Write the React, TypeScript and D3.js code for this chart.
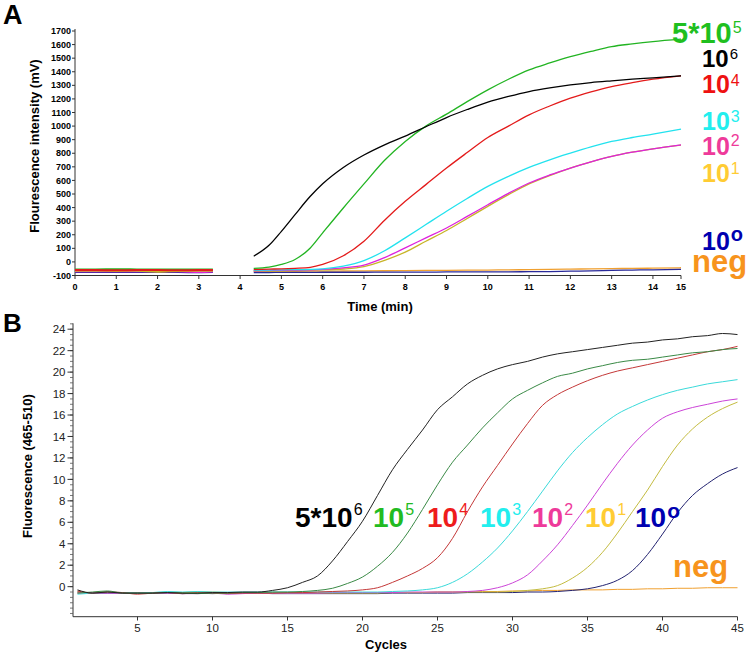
import React from 'react';
import * as d3 from 'd3';

const FONT = "'Liberation Sans', Arial, Helvetica, sans-serif";

// ---------- Panel A data ----------
const timesPre = [0, 0.5, 1, 1.5, 2, 2.5, 3, 3.34];
const timesPost = [4.33, 4.7, 5.0, 5.33, 5.7, 6.0, 6.5, 7.0, 7.5, 8.0, 8.5, 9.0, 9.5, 10, 10.5, 11, 11.5, 12, 12.5, 13, 13.5, 14, 14.68];
const yTicksA = [-100, 0, 100, 200, 300, 400, 500, 600, 700, 800, 900, 1000, 1100, 1200, 1300, 1400, 1500, 1600, 1700];
const xTicksA = [0, 1, 2, 3, 4, 5, 6, 7, 8, 9, 10, 11, 12, 13, 14, 14.68];
const xTickLabelsA = ['0', '1', '2', '3', '4', '5', '6', '7', '8', '9', '10', '11', '12', '13', '14', '15'];

const preBlackA = [-66, -66, -66, -66, -66, -66, -66, -66];
const preGreenA = [-55, -55, -54, -55, -56, -55, -55, -55];
const preRedA = [-60, -60, -61, -60, -60, -61, -60, -60];
const preCyanA = [-63, -63, -62, -63, -63, -62, -63, -63];
const preMagentaA = [-68, -68, -68, -69, -68, -68, -75, -70];
const preYellowA = [-65, -65, -66, -65, -72, -66, -65, -65];
const preBlueA = [-75, -75, -75, -75, -75, -75, -76, -75];
const preNegA = [-63, -63, -63, -62, -63, -63, -63, -63];

const postBlackA = [42, 122, 225, 348, 483, 575, 695, 787, 862, 926, 995, 1063, 1122, 1176, 1218, 1254, 1281, 1303, 1320, 1333, 1345, 1355, 1370];
const postGreenA = [-48, -39, -19, 18, 103, 214, 397, 574, 748, 887, 1000, 1088, 1180, 1267, 1345, 1414, 1465, 1511, 1550, 1585, 1605, 1622, 1640];
const postRedA = [-56, -53, -51, -47, -40, -19, 45, 152, 307, 446, 569, 691, 805, 916, 1000, 1083, 1148, 1206, 1252, 1291, 1320, 1345, 1370];
const postCyanA = [-62, -60, -58, -57, -55, -51, -31, 10, 82, 177, 275, 373, 467, 556, 630, 696, 752, 801, 847, 887, 916, 941, 978];
const postMagentaA = [-65, -63, -62, -60, -58, -55, -44, -24, 32, 103, 177, 250, 335, 421, 505, 581, 640, 691, 737, 777, 808, 833, 862];
const postYellowA = [-68, -66, -65, -63, -61, -59, -52, -34, 12, 72, 152, 231, 320, 409, 495, 574, 636, 691, 737, 777, 808, 833, 860];
const postBlueA = [-78, -78, -77, -77, -77, -76, -76, -76, -75, -75, -75, -74, -74, -74, -73, -72, -71, -68, -66, -62, -60, -58, -55];
const postNegA = [-70, -70, -69, -69, -68, -68, -67, -66, -65, -64, -63, -62, -61, -60, -58, -57, -55, -53, -51, -49, -48, -46, -43];

// ---------- Panel B data ----------
const cyclesB = [1, 2, 3, 4, 5, 6, 7, 8, 9, 10, 11, 12, 13, 14, 15, 16, 17, 18, 19, 20, 21, 22, 23, 24, 25, 26, 27, 28, 29, 30, 31, 32, 33, 34, 35, 36, 37, 38, 39, 40, 41, 42, 43, 44, 45];
const yTicksB = [0, 2, 4, 6, 8, 10, 12, 14, 16, 18, 20, 22, 24];
const xTicksB = [5, 10, 15, 20, 25, 30, 35, 40, 45];

const blackB = [-0.3, -0.6, -0.5, -0.6, -0.6, -0.6, -0.55, -0.6, -0.6, -0.55, -0.55, -0.5, -0.5, -0.35, -0.1, 0.4, 1.0, 2.4, 4.2, 6.1, 8.5, 10.9, 12.8, 14.6, 16.5, 17.7, 18.9, 19.7, 20.3, 20.7, 21.0, 21.4, 21.7, 21.9, 22.1, 22.3, 22.5, 22.7, 22.8, 23.0, 23.1, 23.3, 23.4, 23.6, 23.5];
const greenB = [-0.6, -0.5, -0.4, -0.6, -0.6, -0.6, -0.55, -0.6, -0.65, -0.6, -0.6, -0.55, -0.55, -0.5, -0.5, -0.45, -0.35, -0.15, 0.3, 0.9, 1.9, 3.2, 5.0, 7.2, 9.5, 11.6, 13.2, 14.8, 16.2, 17.5, 18.3, 19.0, 19.6, 19.9, 20.3, 20.6, 20.9, 21.1, 21.2, 21.4, 21.6, 21.8, 21.9, 22.1, 22.2];
const redB = [-0.4, -0.6, -0.5, -0.55, -0.7, -0.6, -0.55, -0.65, -0.6, -0.6, -0.65, -0.6, -0.6, -0.6, -0.55, -0.55, -0.5, -0.45, -0.4, -0.3, -0.1, 0.4, 1.0, 1.7, 2.7, 4.5, 7.0, 9.3, 11.3, 13.3, 15.2, 16.9, 17.9, 18.6, 19.2, 19.7, 20.1, 20.4, 20.7, 21.0, 21.3, 21.6, 21.9, 22.1, 22.4];
const cyanB = [-0.7, -0.6, -0.5, -0.55, -0.6, -0.55, -0.45, -0.5, -0.45, -0.5, -0.5, -0.5, -0.5, -0.5, -0.5, -0.5, -0.5, -0.5, -0.5, -0.5, -0.5, -0.45, -0.4, -0.3, -0.1, 0.4, 1.2, 2.3, 3.6, 5.2, 7.0, 8.9, 10.8, 12.5, 13.9, 15.1, 16.1, 16.8, 17.4, 17.9, 18.3, 18.6, 18.9, 19.1, 19.3];
const magentaB = [-0.6, -0.55, -0.6, -0.6, -0.6, -0.6, -0.6, -0.65, -0.65, -0.6, -0.7, -0.65, -0.6, -0.6, -0.6, -0.6, -0.6, -0.55, -0.55, -0.55, -0.55, -0.55, -0.5, -0.5, -0.5, -0.5, -0.45, -0.35, -0.1, 0.35, 1.1, 2.4, 3.9, 5.7, 7.6, 9.6, 11.5, 13.2, 14.6, 15.7, 16.3, 16.7, 17.0, 17.3, 17.5];
const yellowB = [-0.5, -0.55, -0.5, -0.6, -0.55, -0.6, -0.5, -0.55, -0.5, -0.55, -0.55, -0.55, -0.6, -0.6, -0.6, -0.6, -0.6, -0.6, -0.6, -0.6, -0.6, -0.55, -0.55, -0.55, -0.5, -0.5, -0.5, -0.5, -0.5, -0.45, -0.35, -0.2, 0.1, 0.8, 1.8, 3.2, 5.0, 7.0, 9.0, 11.2, 13.2, 14.7, 15.8, 16.6, 17.2];
const blueB = [-0.5, -0.6, -0.6, -0.6, -0.6, -0.6, -0.6, -0.65, -0.6, -0.65, -0.6, -0.6, -0.6, -0.65, -0.65, -0.65, -0.65, -0.65, -0.65, -0.65, -0.65, -0.6, -0.6, -0.6, -0.6, -0.6, -0.55, -0.55, -0.55, -0.55, -0.5, -0.5, -0.45, -0.35, -0.2, 0.1, 0.6, 1.5, 3.0, 4.9, 6.9, 8.5, 9.6, 10.5, 11.1];
const negB = [-0.6, -0.55, -0.5, -0.55, -0.55, -0.55, -0.55, -0.55, -0.5, -0.5, -0.55, -0.55, -0.55, -0.55, -0.55, -0.55, -0.6, -0.6, -0.6, -0.6, -0.55, -0.55, -0.55, -0.55, -0.5, -0.5, -0.5, -0.45, -0.45, -0.4, -0.4, -0.35, -0.35, -0.3, -0.3, -0.3, -0.25, -0.25, -0.2, -0.2, -0.15, -0.15, -0.1, -0.1, -0.1];

const seriesA = [
  { pre: preNegA, post: postNegA, color: '#f0a030' },
  { pre: preBlueA, post: postBlueA, color: '#2a2a9a' },
  { pre: preYellowA, post: postYellowA, color: '#c8b428' },
  { pre: preMagentaA, post: postMagentaA, color: '#dd22dd' },
  { pre: preCyanA, post: postCyanA, color: '#22e2ee' },
  { pre: preRedA, post: postRedA, color: '#e31a1a' },
  { pre: preGreenA, post: postGreenA, color: '#22b422' },
  { pre: preBlackA, post: postBlackA, color: '#000000' },
];
// drawing order of the pre-gap baseline segments (red on top, as in the reference)
const preOrderA = [7, 4, 0, 1, 3, 2, 6, 5];

const seriesB = [
  { values: negB, color: '#f0a030' },
  { values: blueB, color: '#222270' },
  { values: yellowB, color: '#c4bc40' },
  { values: magentaB, color: '#cc44d8' },
  { values: cyanB, color: '#3adada' },
  { values: redB, color: '#c43838' },
  { values: greenB, color: '#3a8a46' },
  { values: blackB, color: '#222222' },
];

const xA = d3.scaleLinear().domain([0, 14.68]).range([75, 681]);
const yA = d3.scaleLinear().domain([-100, 1700]).range([275.5, 31]);
const xB = d3.scaleLinear().domain([0.7, 45]).range([73, 737.5]);
const yB = d3.scaleLinear().domain([-2.8, 24.55]).range([616.7, 323.3]);
const minorB = d3.range(-2.5, 24.51, 0.5);

function Sup({ x, y, main, sup, color, size, supSize, dy, supBold }: any) {
  return (
    <text x={x} y={y} fill={color} fontFamily={FONT} fontWeight="bold" fontSize={size}>
      <tspan>{main}</tspan>
      <tspan dx={1} dy={dy} fontSize={supSize} fontWeight={supBold ? 'bold' : 'normal'}>{sup}</tspan>
    </text>
  );
}

export default function App() {
  const lineA = d3.line<[number, number]>().x(d => xA(d[0])).y(d => yA(d[1])).curve(d3.curveMonotoneX);
  const lineB = d3.line<[number, number]>().x(d => xB(d[0])).y(d => yB(d[1])).curve(d3.curveMonotoneX);

  return (
    <svg width={750} height={654} style={{ position: 'absolute', left: 0, top: 0, background: '#fff' }}>
      <rect width={750} height={654} fill="#fff" />
      {/* Panel A */}
      <text x={3} y={24} fontFamily={FONT} fontWeight="bold" fontSize={27}>A</text>
      <line x1={75} x2={75} y1={29} y2={275.5} stroke="#333" strokeWidth={1} />
      <line x1={75} x2={681} y1={275.5} y2={275.5} stroke="#333" strokeWidth={1} />
      {yTicksA.map(t => (
        <g key={'ya' + t}>
          <line x1={72} x2={75} y1={yA(t)} y2={yA(t)} stroke="#333" />
          <text x={71} y={yA(t)} dy="0.35em" textAnchor="end" fontFamily={FONT} fontWeight="bold" fontSize={9}>{t}</text>
        </g>
      ))}
      {xTicksA.map((t, i) => (
        <g key={'xa' + t}>
          <line x1={xA(t)} x2={xA(t)} y1={275.5} y2={279} stroke="#333" />
          <text x={xA(t)} y={290} textAnchor="middle" fontFamily={FONT} fontWeight="bold" fontSize={9}>{xTickLabelsA[i]}</text>
        </g>
      ))}
      <text x={380} y={311} textAnchor="middle" fontFamily={FONT} fontWeight="bold" fontSize={13}>Time (min)</text>
      <text transform="translate(39,146) rotate(-90)" textAnchor="middle" fontFamily={FONT} fontWeight="bold" fontSize={13}>Flourescence intensity (mV)</text>
      {preOrderA.map(i => {
        const s = seriesA[i];
        return (
          <path key={'pa' + i} d={lineA(timesPre.map((t, j) => [t, s.pre[j]] as [number, number])) || ''} fill="none" stroke={s.color} strokeWidth={2} />
        );
      })}
      {seriesA.map((s, i) => (
        <path key={'sa' + i} d={lineA(timesPost.map((t, j) => [t, s.post[j]] as [number, number])) || ''} fill="none" stroke={s.color} strokeWidth={1.3} />
      ))}
      <Sup x={672} y={43} main="5*10" sup="5" color="#1fbf1f" size={29} supSize={16} dy={-10} />
      <Sup x={702} y={66.5} main="10" sup="6" color="#000" size={24} supSize={15} dy={-8} />
      <Sup x={702} y={93} main="10" sup="4" color="#ee1111" size={25} supSize={16} dy={-7} />
      <Sup x={702} y={130} main="10" sup="3" color="#22eeee" size={25} supSize={16} dy={-8} />
      <Sup x={702} y={155} main="10" sup="2" color="#ee3a9a" size={25} supSize={16} dy={-9} />
      <Sup x={702} y={181.5} main="10" sup="1" color="#ffcc33" size={25} supSize={16} dy={-8} />
      <Sup x={702} y={250} main="10" sup="o" color="#0000b0" size={25} supSize={20} dy={-9.5} supBold />
      <text x={692} y={271.5} fill="#f7941d" fontFamily={FONT} fontWeight="bold" fontSize={31}>neg</text>

      {/* Panel B */}
      <text x={3} y={332} fontFamily={FONT} fontWeight="bold" fontSize={26}>B</text>
      <line x1={73} x2={73} y1={323.3} y2={616.7} stroke="#333" strokeWidth={1} />
      <line x1={73} x2={737.5} y1={616.7} y2={616.7} stroke="#333" strokeWidth={1} />
      {minorB.map(t => (
        <line key={'mb' + t} x1={70} x2={73} y1={yB(t)} y2={yB(t)} stroke="#555" strokeWidth={0.8} />
      ))}
      {yTicksB.map(t => (
        <g key={'yb' + t}>
          <line x1={67.5} x2={73} y1={yB(t)} y2={yB(t)} stroke="#333" />
          <text x={65.5} y={yB(t)} dy="0.36em" textAnchor="end" fontFamily={FONT} fontSize={11.5} fill="#222">{t}</text>
        </g>
      ))}
      {xTicksB.map(t => (
        <g key={'xb' + t}>
          <line x1={xB(t)} x2={xB(t)} y1={616.7} y2={620.5} stroke="#333" />
          <text x={xB(t)} y={632} textAnchor="middle" fontFamily={FONT} fontSize={11.5} fill="#222">{t}</text>
        </g>
      ))}
      <text x={386} y={649} textAnchor="middle" fontFamily={FONT} fontWeight="bold" fontSize={13}>Cycles</text>
      <text transform="translate(32,466) rotate(-90)" textAnchor="middle" fontFamily={FONT} fontWeight="bold" fontSize={13}>Fluorescence (465-510)</text>
      {seriesB.map((s, i) => (
        <path key={'sb' + i} d={lineB(cyclesB.map((c, j) => [c, s.values[j]] as [number, number])) || ''} fill="none" stroke={s.color} strokeWidth={1} />
      ))}
      <Sup x={295} y={526.5} main="5*10" sup="6" color="#000" size={28} supSize={16} dy={-12} />
      <Sup x={373} y={526.5} main="10" sup="5" color="#22bb22" size={28} supSize={16} dy={-12} />
      <Sup x={427} y={526.5} main="10" sup="4" color="#ee1c1c" size={28} supSize={16} dy={-12} />
      <Sup x={480} y={526.5} main="10" sup="3" color="#22eeee" size={28} supSize={16} dy={-12} />
      <Sup x={532} y={526.5} main="10" sup="2" color="#ee3a9a" size={28} supSize={16} dy={-12} />
      <Sup x={585} y={526.5} main="10" sup="1" color="#ffcc33" size={28} supSize={16} dy={-12} />
      <Sup x={635} y={526.5} main="10" sup="o" color="#0000b0" size={28} supSize={21} dy={-9} supBold />
      <text x={673} y={577} fill="#f7941d" fontFamily={FONT} fontWeight="bold" fontSize={31}>neg</text>
    </svg>
  );
}
